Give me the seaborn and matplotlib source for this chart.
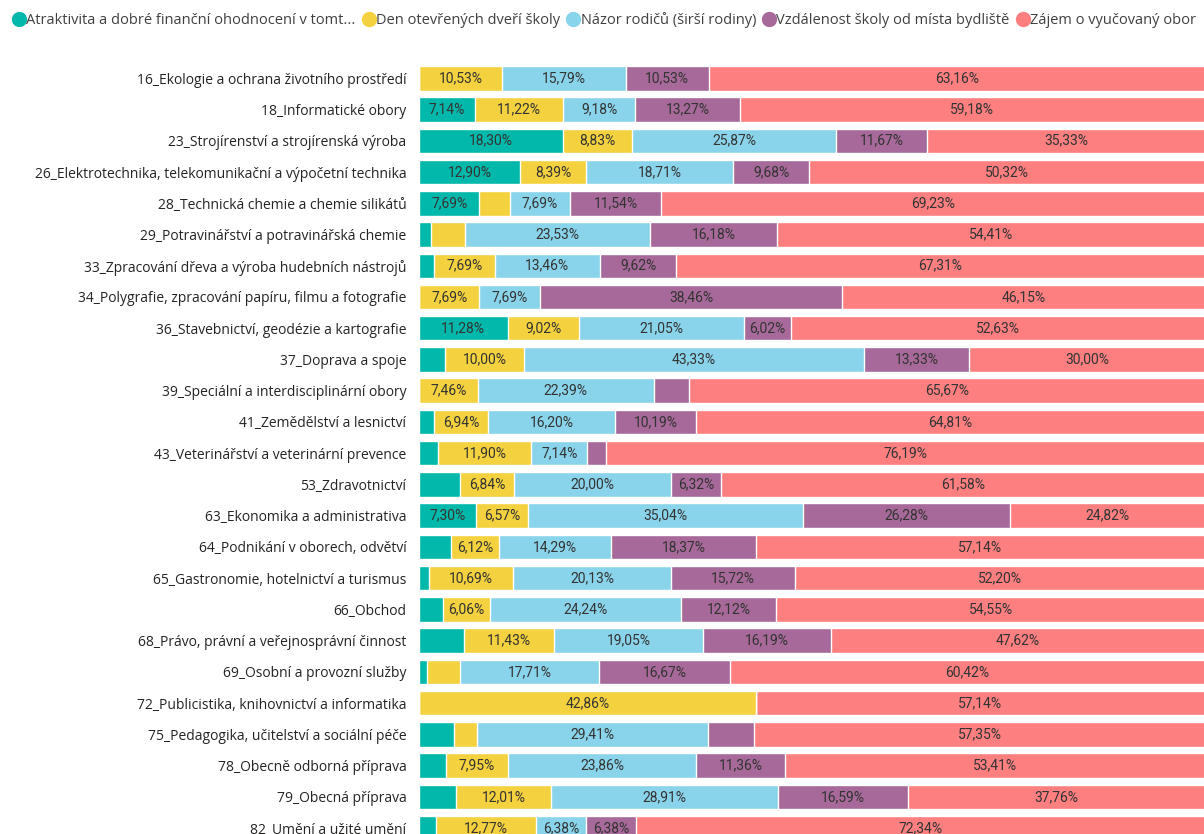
import pandas as pd
import seaborn as sns
import matplotlib.pyplot as plt
from matplotlib.lines import Line2D

# obory vzdělání (kategorie)
obory = [
    '16_Ekologie a ochrana životního prostředí',
    '18_Informatické obory',
    '23_Strojírenství a strojírenská výroba',
    '26_Elektrotechnika, telekomunikační a výpočetní technika',
    '28_Technická chemie a chemie silikátů',
    '29_Potravinářství a potravinářská chemie',
    '33_Zpracování dřeva a výroba hudebních nástrojů',
    '34_Polygrafie, zpracování papíru, filmu a fotografie',
    '36_Stavebnictví, geodézie a kartografie',
    '37_Doprava a spoje',
    '39_Speciální a interdisciplinární obory',
    '41_Zemědělství a lesnictví',
    '43_Veterinářství a veterinární prevence',
    '53_Zdravotnictví',
    '63_Ekonomika a administrativa',
    '64_Podnikání v oborech, odvětví',
    '65_Gastronomie, hotelnictví a turismus',
    '66_Obchod',
    '68_Právo, právní a veřejnosprávní činnost',
    '69_Osobní a provozní služby',
    '72_Publicistika, knihovnictví a informatika',
    '75_Pedagogika, učitelství a sociální péče',
    '78_Obecně odborná příprava',
    '79_Obecná příprava',
    '82_Umění a užité umění',
]

# podíly v % pro jednotlivé důvody
atraktivita = [0, 7.14, 18.30, 12.90, 7.69, 1.47, 1.92, 0, 11.28, 3.33, 0, 1.85, 2.38,
               5.26, 7.30, 4.08, 1.26, 3.03, 5.71, 1.04, 0, 4.41, 3.41, 4.73, 2.13]
den_otevrenych = [10.53, 11.22, 8.83, 8.39, 3.85, 4.41, 7.69, 7.69, 9.02, 10.00, 7.46, 6.94, 11.90,
                  6.84, 6.57, 6.12, 10.69, 6.06, 11.43, 4.17, 42.86, 2.94, 7.95, 12.01, 12.77]
nazor_rodicu = [15.79, 9.18, 25.87, 18.71, 7.69, 23.53, 13.46, 7.69, 21.05, 43.33, 22.39, 16.20, 7.14,
                20.00, 35.04, 14.29, 20.13, 24.24, 19.05, 17.71, 0, 29.41, 23.86, 28.91, 6.38]
vzdalenost = [10.53, 13.27, 11.67, 9.68, 11.54, 16.18, 9.62, 38.46, 6.02, 13.33, 4.48, 10.19, 2.38,
              6.32, 26.28, 18.37, 15.72, 12.12, 16.19, 16.67, 0, 5.88, 11.36, 16.59, 6.38]
zajem = [63.16, 59.18, 35.33, 50.32, 69.23, 54.41, 67.31, 46.15, 52.63, 30.00, 65.67, 64.81, 76.19,
         61.58, 24.82, 57.14, 52.20, 54.55, 47.62, 60.42, 57.14, 57.35, 53.41, 37.76, 72.34]

serie = ['Atraktivita a dobré finanční ohodnocení v tomt...', 'Den otevřených dveří školy',
         'Názor rodičů (širší rodiny)', 'Vzdálenost školy od místa bydliště', 'Zájem o vyučovaný obor']
barvy = ['#01B8AA', '#F4D13E', '#8AD4EB', '#A66999', '#FE7F7F']

df = pd.DataFrame({'obor': obory, serie[0]: atraktivita, serie[1]: den_otevrenych,
                   serie[2]: nazor_rodicu, serie[3]: vzdalenost, serie[4]: zajem})
kum = df[serie].cumsum(axis=1)

sns.set_style('white')
plt.rcParams['font.family'] = ['Open Sans', 'DejaVu Sans']

fig = plt.figure(figsize=(12.04, 8.34), dpi=100)
ax = fig.add_axes([419 / 1204, 0, 786 / 1204, 774 / 834])

# skládané pruhy: kumulativní součty od nejdelšího
for s, c in reversed(list(zip(serie, barvy))):
    sns.barplot(x=kum[s], y=df['obor'], color=c, orient='h', width=0.784,
                saturation=1, ax=ax)

# popisky hodnot
for i in range(len(df)):
    zacatek = 0
    for s in serie:
        v = df.loc[i, s]
        if v >= 6:
            ax.text(zacatek + v / 2, i, f'{v:.2f}'.replace('.', ',') + '%',
                    ha='center', va='center', fontsize=10, color='#333333',
                    family=['Roboto', 'DejaVu Sans'])
        zacatek += v

ax.set_xlim(0, 100)
ax.set_ylim(24.19, -0.586)
ax.set_xlabel('')
ax.set_ylabel('')
ax.set_xticks([])
sns.despine(ax=ax, left=True, bottom=True)
ax.tick_params(axis='y', length=0, pad=9, labelsize=10, labelcolor='#252423')

# legenda nahoře
uchyty = [Line2D([0], [0], marker='o', linestyle='', markersize=10,
                 markerfacecolor=c, markeredgecolor=c) for c in barvy]
fig.legend(uchyty, serie, loc='upper left', bbox_to_anchor=(0.0, 1.0), ncol=5,
           frameon=False, fontsize=10.5, handletextpad=0.05, columnspacing=0.45,
           handlelength=0.9, borderaxespad=0.45, labelcolor='#404040')

fig.savefig('out.png', dpi=100)
